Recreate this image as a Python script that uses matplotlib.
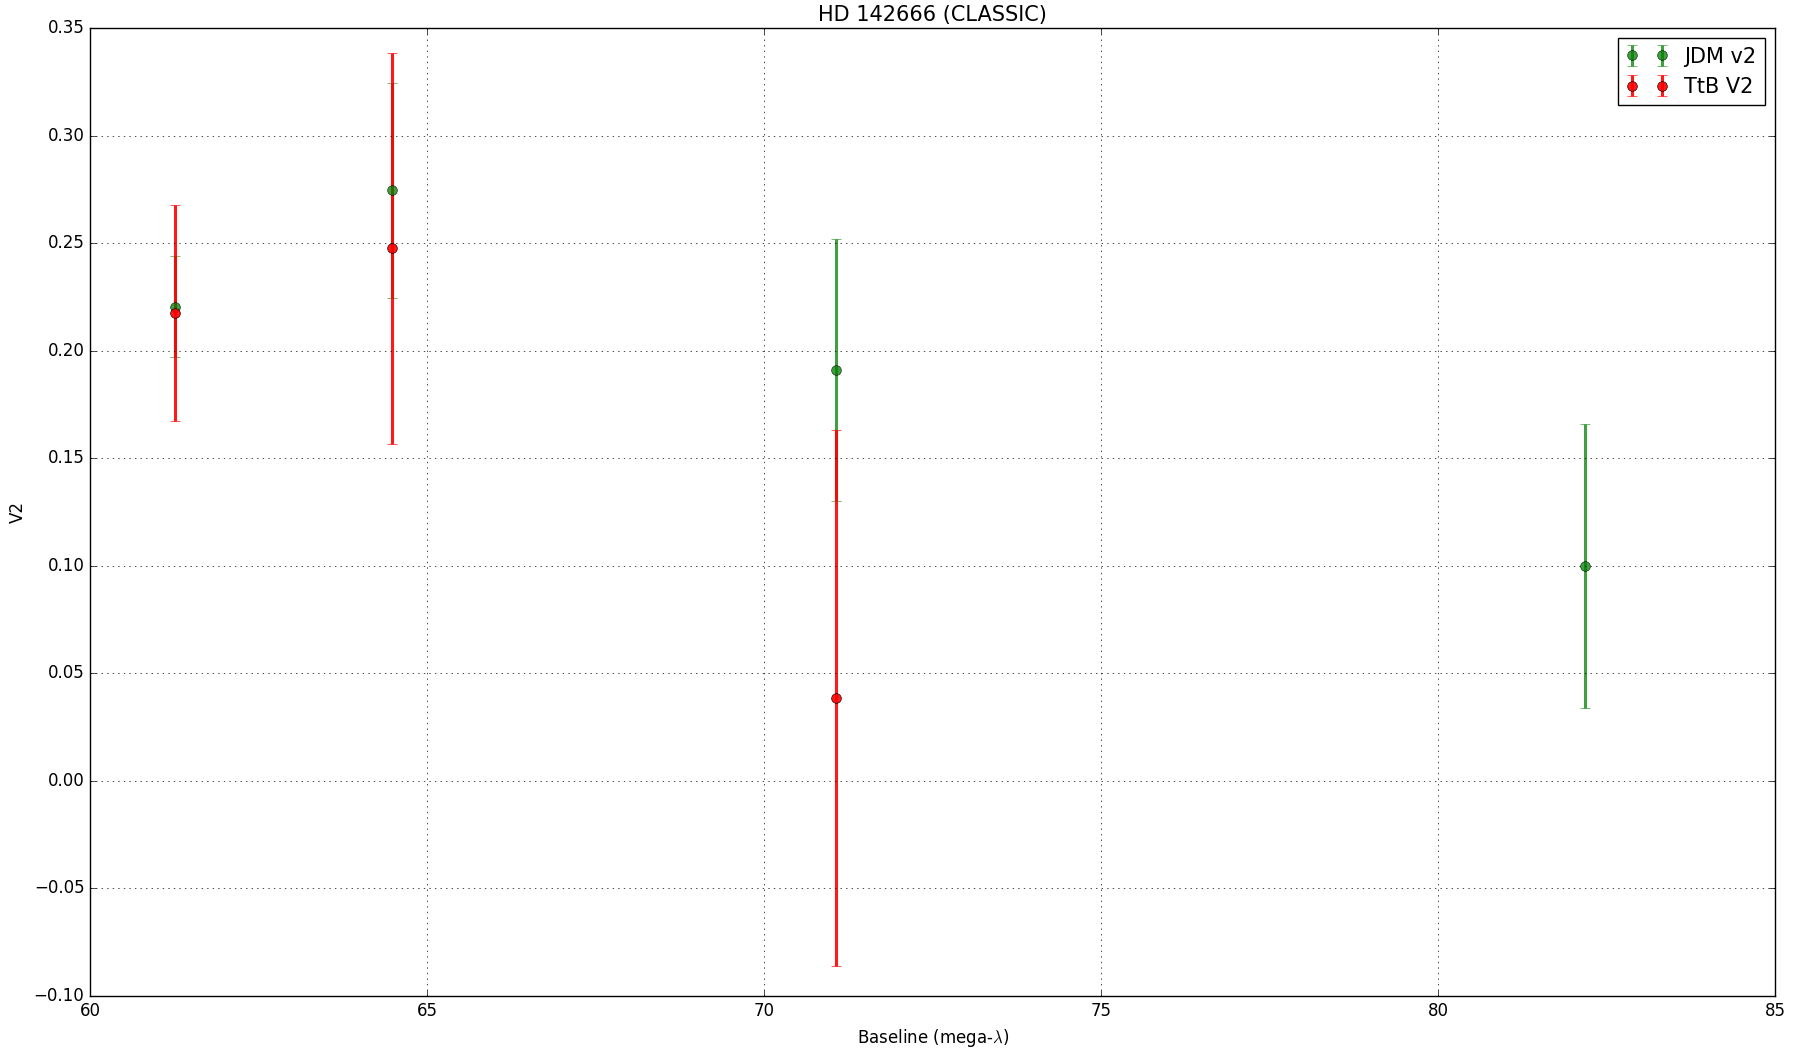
import matplotlib
matplotlib.use("Agg")
import matplotlib.pyplot as plt

plt.style.use('classic')

baseline = [61.26, 64.48, 71.07, 82.18]
jdm_v2 = [0.2205, 0.2745, 0.191, 0.100]
jdm_err = [0.0235, 0.050, 0.061, 0.066]

ttb_baseline = [61.26, 64.48, 71.07]
ttb_v2 = [0.2175, 0.2475, 0.0385]
ttb_err = [0.050, 0.091, 0.1245]

fig = plt.figure(figsize=(18.06, 10.51), dpi=100, facecolor='white')
ax = fig.add_axes([0.0498, 0.0523, 0.9332, 0.9211])

ax.errorbar(baseline, jdm_v2, yerr=jdm_err, fmt='o', color='green', alpha=0.75,
            elinewidth=2.2, capsize=3.5, markersize=7, label='JDM v2')
ax.errorbar(ttb_baseline, ttb_v2, yerr=ttb_err, fmt='o', color='red', alpha=0.9,
            elinewidth=2.2, capsize=3.5, markersize=7, label='TtB V2')

ax.set_xlim(60, 85)
ax.set_ylim(-0.10, 0.35)
ax.grid(True)
ax.set_title('HD 142666 (CLASSIC)', fontsize=15)
ax.set_xlabel(r'Baseline (mega-$\lambda$)')
ax.set_ylabel('V2')
ax.legend(loc='upper right', numpoints=2, fontsize=15)

fig.savefig('out.png', dpi=100, facecolor='white')
